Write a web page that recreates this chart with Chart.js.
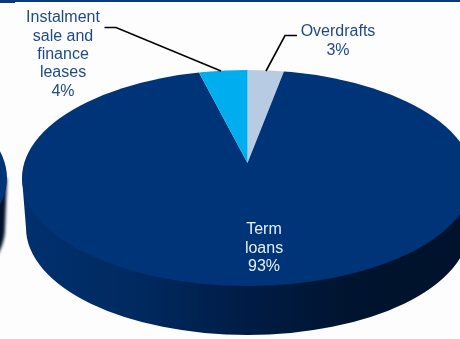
<!DOCTYPE html>
<html>
<head>
<meta charset="utf-8">
<style>
html,body{margin:0;padding:0;background:#fdfdfd;overflow:hidden}
canvas{display:block}
</style>
<script src="https://cdn.jsdelivr.net/npm/chart.js@4/dist/chart.umd.min.js"></script>
</head>
<body>
<canvas id="pie" width="460" height="339"></canvas>
<script>
// Loan book split by product, clockwise from twelve o'clock
const categories = ['Overdrafts', 'Term loans', 'Instalment sale and finance leases'];
const shares = [3, 93, 4];
const sliceColours = ['#b7cbe2', '#003478', '#00aeef'];
const labelLines = [['Overdrafts', '3%'], ['Term', 'loans', '93%'], ['Instalment', 'sale and', 'finance', 'leases', '4%']];
const labelAnchors = [[338, 32], [264, 230], [63, 18]];
const labelColours = ['#1f4a87', '#e8eef6', '#1f4a87'];

// Tilted disc geometry
const disc = {cx: 247.5, cy: 178, rx: 225.5, ry: 108, apexY: 163, depth: 50};

function discPath(ctx, dy, shrink) {
  ctx.beginPath();
  ctx.ellipse(disc.cx, disc.cy + dy, disc.rx - shrink, disc.ry - shrink / 4, 0, 0, Math.PI * 2);
}

const tiltedPie = {
  id: 'tiltedPie',
  beforeDatasetsDraw(chart) {
    const ctx = chart.ctx;
    ctx.save();
    // Neighbouring disc cut off by the left edge: soft wall, then its top face
    ctx.filter = 'blur(1.5px)';
    ctx.fillStyle = '#00122b';
    ctx.beginPath();
    ctx.moveTo(7, 178);
    ctx.lineTo(5, 228);
    ctx.ellipse(-221, 228, 226, 107, 0, 0, Math.PI / 2);
    ctx.lineTo(-20, 335);
    ctx.lineTo(-20, 178);
    ctx.closePath();
    ctx.fill();
    ctx.filter = 'none';
    ctx.fillStyle = '#003478';
    ctx.beginPath();
    ctx.ellipse(-219, 178, 226, 108, 0, 0, Math.PI * 2);
    ctx.fill();

    // Header rule along the top edge
    ctx.fillStyle = '#0b3a7c';
    ctx.fillRect(0, 0, 460, 2);
    ctx.fillRect(0, 0, 15, 3);

    // Side wall of the disc, darkening to the right
    const wall = ctx.createLinearGradient(disc.cx - disc.rx, 0, disc.cx + disc.rx, 0);
    wall.addColorStop(0, '#00306e');
    wall.addColorStop(0.25, '#002a60');
    wall.addColorStop(0.5, '#001c45');
    wall.addColorStop(0.72, '#00142f');
    wall.addColorStop(1, '#00122b');
    ctx.fillStyle = wall;
    ctx.beginPath();
    ctx.moveTo(disc.cx - disc.rx, disc.cy);
    ctx.lineTo(disc.cx - disc.rx + 4, disc.cy + disc.depth);
    ctx.ellipse(disc.cx, disc.cy + disc.depth, disc.rx - 4, disc.ry - 1, 0, Math.PI, 0, true);
    ctx.lineTo(disc.cx + disc.rx, disc.cy);
    ctx.closePath();
    ctx.fill();

    // Top face: the pie is stretched past the rim and clipped to it,
    // which puts the slice apex behind the rim's centre
    discPath(ctx, 0, 0);
    ctx.clip();
    const area = chart.chartArea;
    const baseX = (area.left + area.right) / 2;
    const baseY = (area.top + area.bottom) / 2;
    const baseR = Math.min(area.right - area.left, area.bottom - area.top) / 2;
    const scale = 300 / baseR;
    ctx.translate(disc.cx, disc.apexY);
    ctx.scale(scale, scale * disc.ry / disc.rx);
    ctx.translate(-baseX, -baseY);
  },
  afterDatasetsDraw(chart) {
    const ctx = chart.ctx;
    ctx.restore();

    // Leader lines
    ctx.strokeStyle = '#000';
    ctx.lineWidth = 1.6;
    ctx.beginPath();
    ctx.moveTo(104.5, 27.5);
    ctx.lineTo(116, 27.5);
    ctx.lineTo(221, 71);
    ctx.moveTo(297, 35.5);
    ctx.lineTo(285, 35.5);
    ctx.lineTo(266, 71);
    ctx.stroke();

    // Slice labels
    ctx.font = '16px "Liberation Sans", Arial, sans-serif';
    ctx.textAlign = 'center';
    ctx.textBaseline = 'middle';
    labelLines.forEach((lines, i) => {
      ctx.fillStyle = labelColours[i];
      lines.forEach((line, j) => {
        ctx.fillText(line, labelAnchors[i][0], labelAnchors[i][1] + j * 18.3);
      });
    });
  }
};

new Chart(document.getElementById('pie'), {
  type: 'pie',
  data: {
    labels: categories,
    datasets: [{data: shares, backgroundColor: sliceColours, borderWidth: 0}]
  },
  options: {
    responsive: false,
    animation: false,
    events: [],
    layout: {padding: 0},
    plugins: {legend: {display: false}, tooltip: {enabled: false}}
  },
  plugins: [tiltedPie]
});
</script>
</body>
</html>
